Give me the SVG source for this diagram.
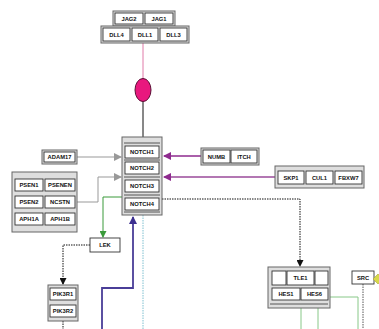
<svg xmlns="http://www.w3.org/2000/svg" width="379" height="329" viewBox="0 0 379 329">
<style>
.grp{fill:#dedede;stroke:#666;stroke-width:1}
.cell{fill:#fff;stroke:#333;stroke-width:0.9}
.t{font-family:"Liberation Sans",Arial,sans-serif;font-size:5.8px;font-weight:bold;fill:#111;text-anchor:middle;dominant-baseline:central}
.sep{stroke:#333;stroke-width:0.8}
</style>
<defs>
<marker id="aGray" markerWidth="8" markerHeight="8" refX="7" refY="4" orient="auto" markerUnits="userSpaceOnUse"><path d="M0,0 L8,4 L0,8 z" fill="#999"/></marker>
<marker id="aPurple" markerWidth="8" markerHeight="8" refX="7" refY="4" orient="auto" markerUnits="userSpaceOnUse"><path d="M0,0 L8,4 L0,8 z" fill="#8e2a8e"/></marker>
<marker id="aBlack" markerWidth="7" markerHeight="7" refX="6" refY="3.5" orient="auto" markerUnits="userSpaceOnUse"><path d="M0,0 L7,3.5 L0,7 z" fill="#111"/></marker>
<marker id="aGreen" markerWidth="7" markerHeight="7" refX="6" refY="3.5" orient="auto" markerUnits="userSpaceOnUse"><path d="M0,0 L7,3.5 L0,7 z" fill="#3a9a3a"/></marker>
<marker id="aNavy" markerWidth="8" markerHeight="8" refX="7" refY="4" orient="auto" markerUnits="userSpaceOnUse"><path d="M0,0 L8,4 L0,8 z" fill="#3c2f90"/></marker>
</defs>
<rect width="379" height="329" fill="#fff"/>

<g id="connectors" fill="none">
<line x1="143" y1="42" x2="143" y2="80" stroke="#e07aa8" stroke-width="1"/>
<line x1="143" y1="101" x2="143" y2="137" stroke="#111" stroke-width="1"/>
<line x1="77" y1="157" x2="121" y2="157" stroke="#999" stroke-width="1" marker-end="url(#aGray)"/>
<path d="M77,202 H98 V177 H121" stroke="#999" stroke-width="1" marker-end="url(#aGray)"/>
<line x1="201" y1="156" x2="164" y2="156" stroke="#8e2a8e" stroke-width="1.6" marker-end="url(#aPurple)"/>
<line x1="275" y1="177" x2="164" y2="177" stroke="#9a4a9a" stroke-width="1.6" marker-end="url(#aPurple)"/>
<path d="M162,199 H300 V266" stroke="#111" stroke-width="1" stroke-dasharray="1.5,1" marker-end="url(#aBlack)"/>
<path d="M122,197 H103 V237" stroke="#3a9a3a" stroke-width="1" marker-end="url(#aGreen)"/>
<path d="M90,245 H63 V284" stroke="#111" stroke-width="1" stroke-dasharray="1.5,1" marker-end="url(#aBlack)"/>
<line x1="63" y1="321" x2="63" y2="329" stroke="#111" stroke-width="1" stroke-dasharray="1.5,1"/>
<path d="M102,329 V288 H133 V217" stroke="#4a3e98" stroke-width="1.8" marker-end="url(#aNavy)"/>
<line x1="143" y1="215" x2="143" y2="329" stroke="#7fc0d0" stroke-width="1" stroke-dasharray="1.5,1"/>
<path d="M330,297 H358 V329" stroke="#88c888" stroke-width="1"/>
<line x1="301" y1="308" x2="301" y2="329" stroke="#88c888" stroke-width="1"/>
<line x1="318" y1="308" x2="318" y2="329" stroke="#88c888" stroke-width="1"/>
<line x1="363" y1="284" x2="363" y2="329" stroke="#555" stroke-width="1" stroke-dasharray="1.5,1"/>
</g>

<g id="jag">
<rect class="grp" x="113" y="11" width="62" height="15"/>
<rect class="cell" x="115" y="13" width="28" height="11"/><text class="t" x="129" y="18.5">JAG2</text>
<rect class="cell" x="145" y="13" width="28" height="11"/><text class="t" x="159" y="18.5">JAG1</text>
</g>
<g id="dll">
<rect class="grp" x="101" y="26" width="88" height="17"/>
<rect class="cell" x="103" y="28" width="27" height="13"/><text class="t" x="116.5" y="34.5">DLL4</text>
<rect class="cell" x="132" y="28" width="26" height="13"/><text class="t" x="145" y="34.5">DLL1</text>
<rect class="cell" x="160" y="28" width="27" height="13"/><text class="t" x="173.5" y="34.5">DLL3</text>
</g>
<g id="ligand-binding">
<ellipse cx="143" cy="90" rx="8" ry="11.5" fill="#e8187e" stroke="#5a1035" stroke-width="1"/>
</g>
<g id="notch">
<rect class="grp" x="122" y="137" width="40" height="78"/>
<line class="sep" x1="124" y1="143" x2="160" y2="143"/>
<rect class="cell" x="125" y="146" width="34" height="12"/><text class="t" x="142" y="152">NOTCH1</text>
<line class="sep" x1="124" y1="160" x2="160" y2="160"/>
<rect class="cell" x="125" y="162" width="34" height="12"/><text class="t" x="142" y="168">NOTCH2</text>
<line class="sep" x1="124" y1="177" x2="160" y2="177"/>
<rect class="cell" x="125" y="180" width="34" height="12"/><text class="t" x="142" y="186">NOTCH3</text>
<line class="sep" x1="124" y1="195" x2="160" y2="195"/>
<rect class="cell" x="125" y="198" width="34" height="12"/><text class="t" x="142" y="204">NOTCH4</text>
<line class="sep" x1="124" y1="212" x2="160" y2="212"/>
</g>
<g id="adam17">
<rect class="grp" x="42" y="150" width="35" height="14"/>
<rect class="cell" x="44" y="152" width="31" height="10"/><text class="t" x="59.5" y="157">ADAM17</text>
</g>
<g id="gamma-secretase">
<rect class="grp" x="12" y="172" width="65" height="60"/>
<rect class="cell" x="15" y="179" width="28" height="12"/><text class="t" x="29" y="185">PSEN1</text>
<rect class="cell" x="45" y="179" width="30" height="12"/><text class="t" x="60" y="185">PSENEN</text>
<rect class="cell" x="15" y="196" width="28" height="12"/><text class="t" x="29" y="202">PSEN2</text>
<rect class="cell" x="45" y="196" width="30" height="12"/><text class="t" x="60" y="202">NCSTN</text>
<rect class="cell" x="15" y="213" width="28" height="12"/><text class="t" x="29" y="219">APH1A</text>
<rect class="cell" x="45" y="213" width="30" height="12"/><text class="t" x="60" y="219">APH1B</text>
</g>
<g id="numb-itch">
<rect class="grp" x="201" y="148" width="58" height="17"/>
<rect class="cell" x="203" y="150" width="27" height="13"/><text class="t" x="216.5" y="156.5">NUMB</text>
<rect class="cell" x="231" y="150" width="26" height="13"/><text class="t" x="244" y="156.5">ITCH</text>
</g>
<g id="scf">
<rect class="grp" x="275" y="166" width="89" height="22"/>
<rect class="cell" x="278" y="171" width="26" height="13"/><text class="t" x="291" y="177.5">SKP1</text>
<rect class="cell" x="306" y="171" width="27" height="13"/><text class="t" x="319.5" y="177.5">CUL1</text>
<rect class="cell" x="335" y="171" width="27" height="13"/><text class="t" x="348.5" y="177.5">FBXW7</text>
</g>
<g id="lek">
<rect class="cell" x="90" y="238" width="30" height="14"/><text class="t" x="105" y="245">LEK</text>
</g>
<g id="pik3r">
<rect class="grp" x="48" y="285" width="30" height="36"/>
<rect class="cell" x="50" y="288" width="26" height="12"/><text class="t" x="63" y="294">PIK3R1</text>
<rect class="cell" x="50" y="305" width="26" height="12"/><text class="t" x="63" y="311">PIK3R2</text>
</g>
<g id="tle1-hes">
<rect class="grp" x="268" y="267" width="62" height="41"/>
<rect class="cell" x="272" y="271" width="14" height="14"/>
<rect class="cell" x="287" y="271" width="27" height="14"/><text class="t" x="300.5" y="278">TLE1</text>
<rect class="cell" x="315" y="271" width="13" height="14"/>
<rect class="cell" x="272" y="288" width="28" height="12"/><text class="t" x="286" y="294">HES1</text>
<rect class="cell" x="301" y="288" width="27" height="12"/><text class="t" x="314.5" y="294">HES6</text>
<line class="sep" x1="270" y1="304" x2="328" y2="304"/>
</g>
<g id="src">
<rect class="cell" x="352" y="271" width="22" height="13"/><text class="t" x="363" y="277.5">SRC</text>
<polygon points="373,279 378,274 383,279 378,284" fill="#d8d84a" stroke="#aaa830" stroke-width="0.6"/>
</g>
</svg>
